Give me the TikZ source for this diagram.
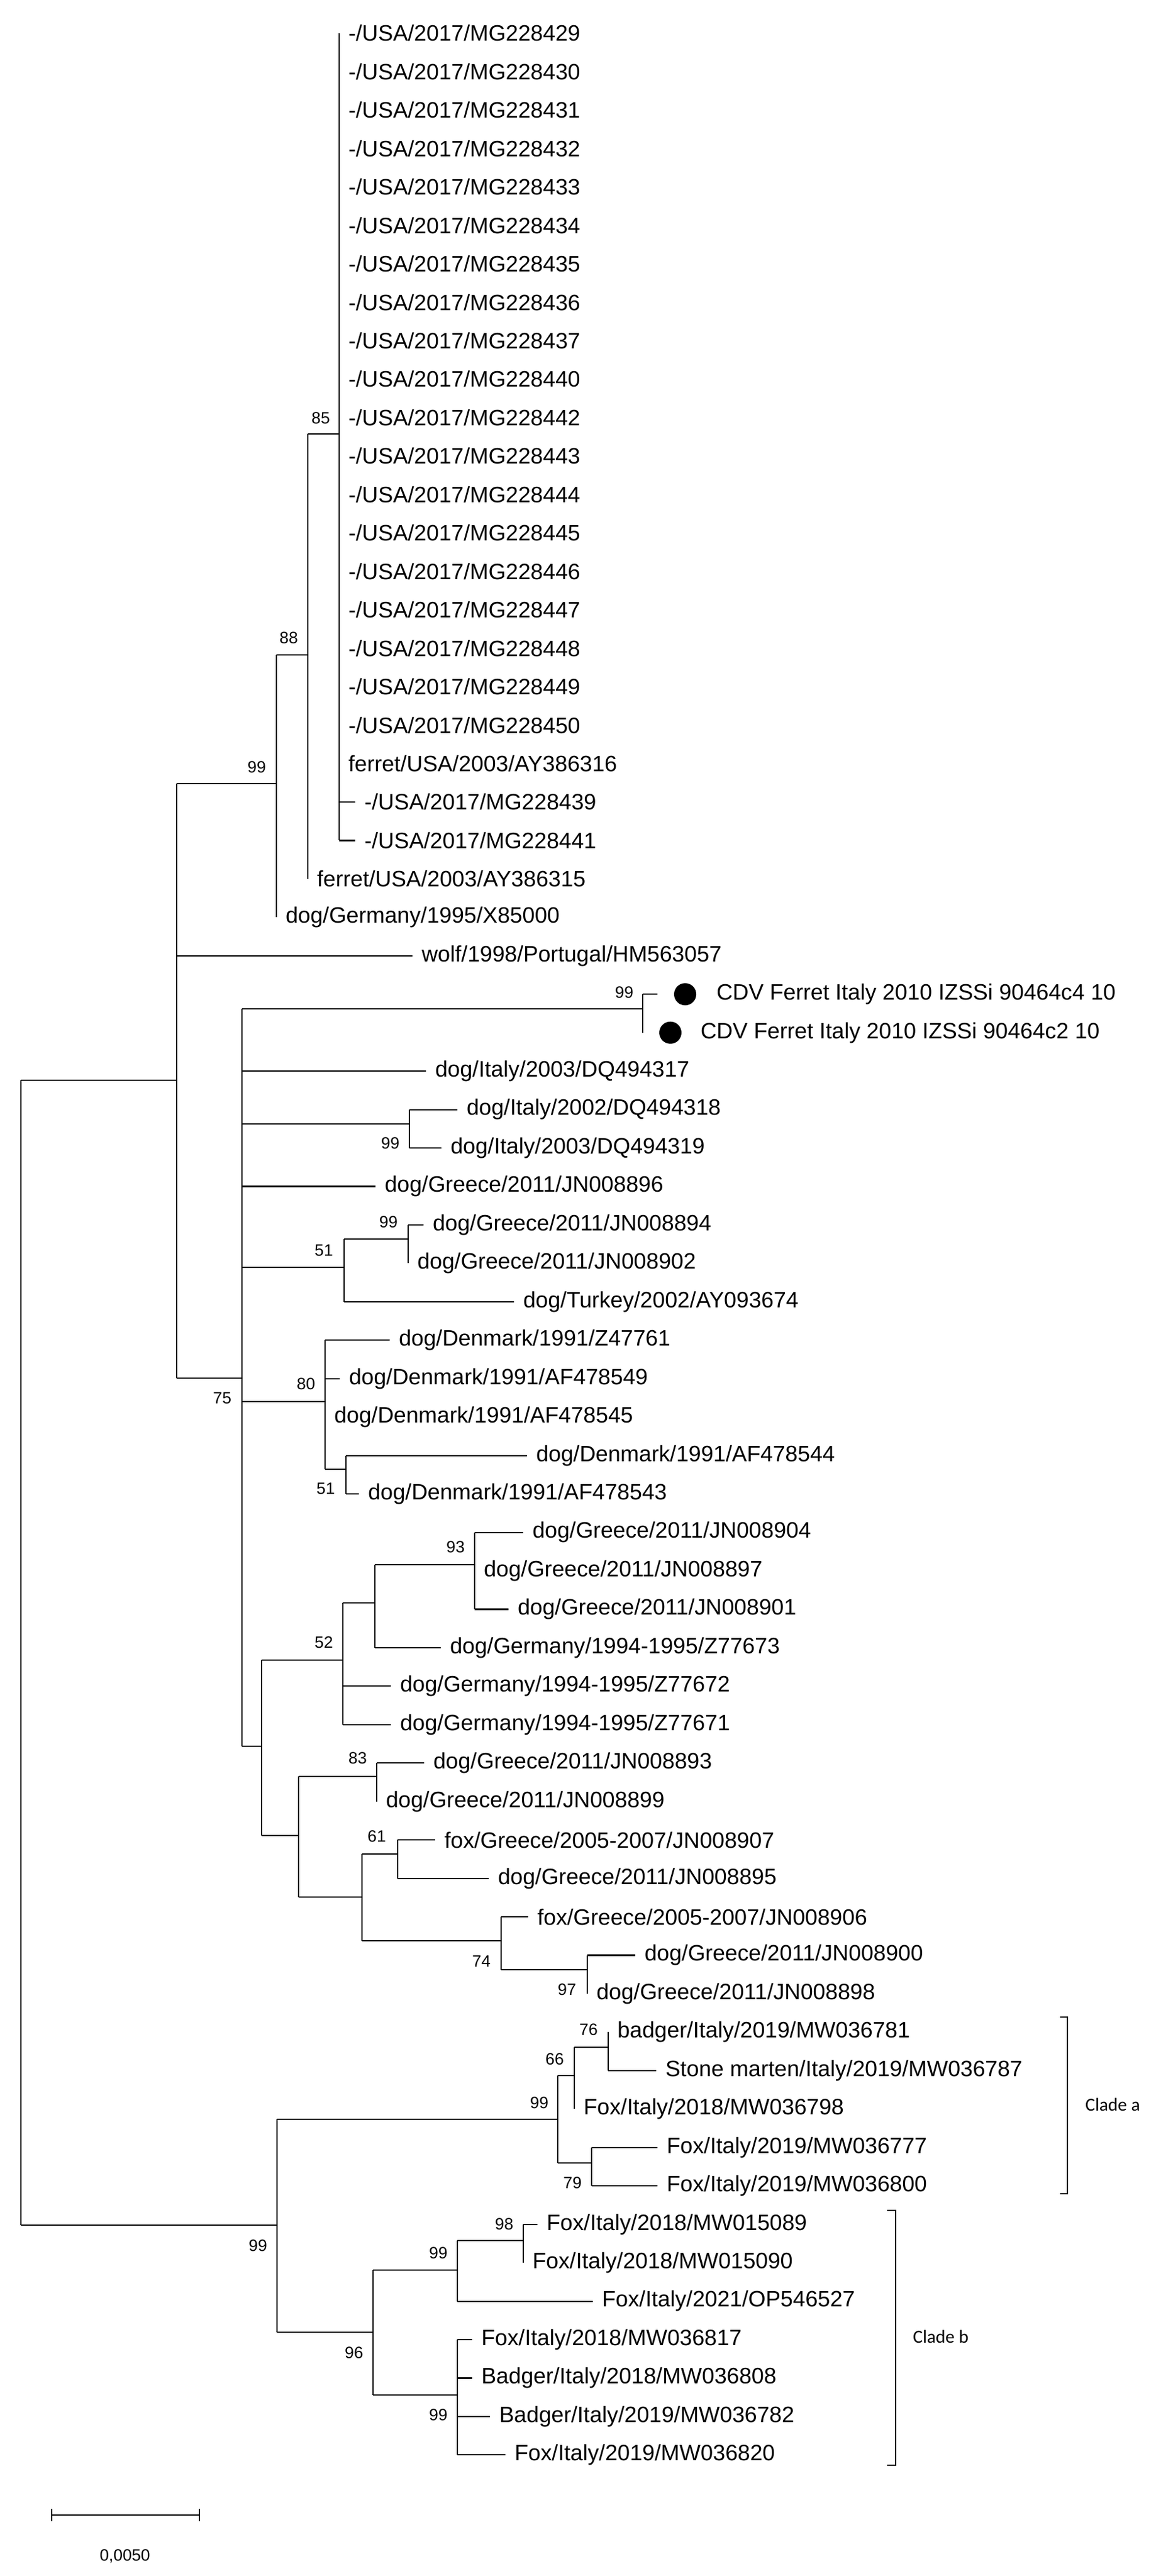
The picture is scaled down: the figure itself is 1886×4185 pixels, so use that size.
\documentclass[tikz,border=0pt]{standalone}
\usepackage{fontspec}
\setmainfont{Liberation Sans}
\newfontfamily\cladefont{Carlito}
\begin{document}
\begin{tikzpicture}[x=0.01cm,y=-0.01cm,line width=0.6pt,
  leaf/.style={anchor=west,inner xsep=0.14cm,inner ysep=0pt,font=\fontsize{10.3}{12}\selectfont},
  bs/.style={inner sep=0pt,font=\fontsize{7.6}{9}\selectfont},
  dot/.style={circle,fill=black,minimum size=0.36cm,inner sep=0pt},
  clade/.style={anchor=west,inner sep=0pt,font=\cladefont\fontsize{8.5}{10}\selectfont}]
\useasboundingbox (0,0) rectangle (1886,4185);
\newcommand{\lf}[4]{\node[leaf] (#1) at (#2,{54+62.45*#3}) {#4};}
\newcommand{\br}[2]{\draw (#1 |- #2) -- (#2);}
\newcommand{\vt}[3]{\draw (#1 |- 0,#2) -- (#1 |- 0,#3);}
\newcommand{\vl}[3]{\draw (#1 |- #2) -- (#1 |- #3);}
% leaves
\lf{l0}{551}{0}{-/USA/2017/MG228429}
\lf{l1}{551}{1}{-/USA/2017/MG228430}
\lf{l2}{551}{2}{-/USA/2017/MG228431}
\lf{l3}{551}{3}{-/USA/2017/MG228432}
\lf{l4}{551}{4}{-/USA/2017/MG228433}
\lf{l5}{551}{5}{-/USA/2017/MG228434}
\lf{l6}{551}{6}{-/USA/2017/MG228435}
\lf{l7}{551}{7}{-/USA/2017/MG228436}
\lf{l8}{551}{8}{-/USA/2017/MG228437}
\lf{l9}{551}{9}{-/USA/2017/MG228440}
\lf{l10}{551}{10}{-/USA/2017/MG228442}
\lf{l11}{551}{11}{-/USA/2017/MG228443}
\lf{l12}{551}{12}{-/USA/2017/MG228444}
\lf{l13}{551}{13}{-/USA/2017/MG228445}
\lf{l14}{551}{14}{-/USA/2017/MG228446}
\lf{l15}{551}{15}{-/USA/2017/MG228447}
\lf{l16}{551}{16}{-/USA/2017/MG228448}
\lf{l17}{551}{17}{-/USA/2017/MG228449}
\lf{l18}{551}{18}{-/USA/2017/MG228450}
\lf{l19}{551}{19}{ferret/USA/2003/AY386316}
\lf{l20}{577}{20}{-/USA/2017/MG228439}
\lf{l21}{577}{21}{-/USA/2017/MG228441}
\lf{l22}{500}{22}{ferret/USA/2003/AY386315}
\lf{l23}{449}{23}{dog/Germany/1995/X85000}
\lf{l24}{670}{24}{wolf/1998/Portugal/HM563057}
\lf{l25}{1149}{25}{CDV Ferret Italy 2010 IZSSi 90464c4 10}
\lf{l26}{1123}{26}{CDV Ferret Italy 2010 IZSSi 90464c2 10}
\lf{l27}{692}{27}{dog/Italy/2003/DQ494317}
\lf{l28}{743}{28}{dog/Italy/2002/DQ494318}
\lf{l29}{717}{29}{dog/Italy/2003/DQ494319}
\lf{l30}{610}{30}{dog/Greece/2011/JN008896}
\lf{l31}{688}{31}{dog/Greece/2011/JN008894}
\lf{l32}{663}{32}{dog/Greece/2011/JN008902}
\lf{l33}{835}{33}{dog/Turkey/2002/AY093674}
\lf{l34}{633}{34}{dog/Denmark/1991/Z47761}
\lf{l35}{552}{35}{dog/Denmark/1991/AF478549}
\lf{l36}{528}{36}{dog/Denmark/1991/AF478545}
\lf{l37}{856}{37}{dog/Denmark/1991/AF478544}
\lf{l38}{583}{38}{dog/Denmark/1991/AF478543}
\lf{l39}{850}{39}{dog/Greece/2011/JN008904}
\lf{l40}{771}{40}{dog/Greece/2011/JN008897}
\lf{l41}{826}{41}{dog/Greece/2011/JN008901}
\lf{l42}{716}{42}{dog/Germany/1994-1995/Z77673}
\lf{l43}{635}{43}{dog/Germany/1994-1995/Z77672}
\lf{l44}{635}{44}{dog/Germany/1994-1995/Z77671}
\lf{l45}{689}{45}{dog/Greece/2011/JN008893}
\lf{l46}{612}{46}{dog/Greece/2011/JN008899}
\lf{l47}{707}{47}{fox/Greece/2005-2007/JN008907}
\lf{l48}{794}{48}{dog/Greece/2011/JN008895}
\lf{l49}{858}{49}{fox/Greece/2005-2007/JN008906}
\lf{l50}{1032}{50}{dog/Greece/2011/JN008900}
\lf{l51}{954}{51}{dog/Greece/2011/JN008898}
\lf{l52}{988}{52}{badger/Italy/2019/MW036781}
\lf{l53}{1066}{53}{Stone marten/Italy/2019/MW036787}
\lf{l54}{933}{54}{Fox/Italy/2018/MW036798}
\lf{l55}{1068}{55}{Fox/Italy/2019/MW036777}
\lf{l56}{1068}{56}{Fox/Italy/2019/MW036800}
\lf{l57}{873}{57}{Fox/Italy/2018/MW015089}
\lf{l58}{850}{58}{Fox/Italy/2018/MW015090}
\lf{l59}{963}{59}{Fox/Italy/2021/OP546527}
\lf{l60}{767}{60}{Fox/Italy/2018/MW036817}
\lf{l61}{767}{61}{Badger/Italy/2018/MW036808}
\lf{l62}{796}{62}{Badger/Italy/2019/MW036782}
\lf{l63}{821}{63}{Fox/Italy/2019/MW036820}
% dots
\node[dot] (d25) at (1113,{54+62.45*25}) {};
\node[dot] (d26) at (1089,{54+62.45*26}) {};
\coordinate (t25) at (1068,{54+62.45*25});
\coordinate (t26) at (1044,{54+62.45*26});
% internal nodes
\coordinate (root) at (34,3615);
\coordinate (nA) at (287,1755);
\coordinate (n99a) at (449,1273);
\coordinate (n88) at (500,1064);
\coordinate (n85) at (551,705);
\coordinate (n75) at (393,2239);
\coordinate (nCDV) at (1044,1639);
\coordinate (nIt) at (665,1826);
\coordinate (n51a) at (559,2059);
\coordinate (n99b) at (663,2013);
\coordinate (n80) at (528,2277);
\coordinate (n51b) at (562,2387);
\coordinate (nG) at (425,2837);
\coordinate (n52) at (557,2697);
\coordinate (nX) at (609,2604);
\coordinate (n93) at (771,2542);
\coordinate (nY) at (485,2982);
\coordinate (n83) at (612,2886);
\coordinate (nZ) at (588,3082);
\coordinate (n61) at (646,3012);
\coordinate (n74) at (814,3153);
\coordinate (n97) at (954,3200);
\coordinate (nB) at (450,3615);
\coordinate (nCa) at (906,3443);
\coordinate (n66) at (933,3372);
\coordinate (n76) at (988,3326);
\coordinate (n79) at (961,3514);
\coordinate (n96) at (606,3789);
\coordinate (n99c) at (743,3688);
\coordinate (n98) at (850,3640);
\coordinate (n99d) at (743,3891);
% verticals
\vt{root}{1755}{3615}
\vt{nA}{1273}{2239}
\vl{n99a}{n88}{l23.west}
\vl{n88}{n85}{l22.west}
\vl{n85}{l0.west}{l21.west}
\vt{n75}{1639}{2837}
\vl{nCDV}{t25}{t26}
\vl{nIt}{l28.west}{l29.west}
\vl{n51a}{n99b}{l33.west}
\vl{n99b}{l31.west}{l32.west}
\vl{n80}{l34.west}{n51b}
\vl{n51b}{l37.west}{l38.west}
\vt{nG}{2697}{2982}
\vl{n52}{nX}{l44.west}
\vl{nX}{n93}{l42.west}
\vl{n93}{l39.west}{l41.west}
\vt{nY}{2886}{3082}
\vl{n83}{l45.west}{l46.west}
\vt{nZ}{3012}{3153}
\vl{n61}{l47.west}{l48.west}
\vl{n74}{l49.west}{n97}
\vl{n97}{l50.west}{l51.west}
\vt{nB}{3443}{3789}
\vt{nCa}{3372}{3514}
\vl{n66}{n76}{l54.west}
\vl{n76}{l52.west}{l53.west}
\vl{n79}{l55.west}{l56.west}
\vt{n96}{3688}{3891}
\vl{n99c}{n98}{l59.west}
\vl{n98}{l57.west}{l58.west}
\vl{n99d}{l60.west}{l63.west}
% horizontals
\br{root}{nA}\br{root}{nB}
\br{nA}{n99a}\br{nA}{l24.west}\br{nA}{n75}
\br{n99a}{n88}\br{n88}{n85}
\br{n85}{l20.west}\br{n85}{l21.west}
\br{n75}{nCDV}\br{n75}{l27.west}\br{n75}{nIt}\br{n75}{l30.west}
\br{n75}{n51a}\br{n75}{n80}\br{n75}{nG}
\br{nCDV}{t25}
\br{nIt}{l28.west}\br{nIt}{l29.west}
\br{n51a}{n99b}\br{n51a}{l33.west}\br{n99b}{l31.west}
\br{n80}{l34.west}\br{n80}{l35.west}\br{n80}{n51b}
\br{n51b}{l37.west}\br{n51b}{l38.west}
\br{nG}{n52}\br{nG}{nY}
\br{n52}{nX}\br{n52}{l43.west}\br{n52}{l44.west}
\br{nX}{n93}\br{nX}{l42.west}
\br{n93}{l39.west}\br{n93}{l41.west}
\br{nY}{n83}\br{nY}{nZ}
\br{n83}{l45.west}
\br{nZ}{n61}\br{nZ}{n74}
\br{n61}{l47.west}\br{n61}{l48.west}
\br{n74}{l49.west}\br{n74}{n97}
\br{n97}{l50.west}
\br{nB}{nCa}\br{nB}{n96}
\br{nCa}{n66}\br{nCa}{n79}
\br{n66}{n76}\br{n76}{l53.west}
\br{n79}{l55.west}\br{n79}{l56.west}
\br{n96}{n99c}\br{n96}{n99d}
\br{n99c}{n98}\br{n99c}{l59.west}
\br{n98}{l57.west}
\br{n99d}{l60.west}\br{n99d}{l61.west}\br{n99d}{l62.west}\br{n99d}{l63.west}
% bootstrap
\node[bs] (b85) at (521,679) {85};
\node[bs] (b88) at (469,1036) {88};
\node[bs] (b99a) at (417,1246) {99};
\node[bs] (b99cdv) at (1014,1612) {99};
\node[bs] (b99it) at (634,1857) {99};
\node[bs] (b99b) at (631,1985) {99};
\node[bs] (b51a) at (526,2031) {51};
\node[bs] (b75) at (361,2271) {75};
\node[bs] (b80) at (497,2248) {80};
\node[bs] (b51b) at (529,2418) {51};
\node[bs] (b93) at (740,2513) {93};
\node[bs] (b52) at (526,2668) {52};
\node[bs] (b83) at (581,2856) {83};
\node[bs] (b61) at (612,2983) {61};
\node[bs] (b74) at (782,3186) {74};
\node[bs] (b97) at (921,3232) {97};
\node[bs] (b76) at (956,3297) {76};
\node[bs] (b66) at (901,3345) {66};
\node[bs] (b99ca) at (876,3416) {99};
\node[bs] (b79) at (930,3546) {79};
\node[bs] (b99r) at (419,3648) {99};
\node[bs] (b98) at (819,3613) {98};
\node[bs] (b99c) at (712,3660) {99};
\node[bs] (b96) at (575,3822) {96};
\node[bs] (b99d) at (712,3923) {99};
% clade brackets
\draw (1722,3277) -- (1734,3277) -- (1734,3564) -- (1722,3564);
\node[clade] (ca) at (1762,3419) {Clade a};
\draw (1441,3591) -- (1455,3591) -- (1455,4005) -- (1441,4005);
\node[clade] (cb) at (1482,3796) {Clade b};
% scale bar
\coordinate (s1) at (84,4086);
\coordinate (s2) at (324,4086);
\draw (s1) -- (s2);
\draw (84,4076) -- (84,4096);
\draw (324,4076) -- (324,4096);
\node[bs] (sl) at (203,4153) {0,0050};
\end{tikzpicture}
\end{document}
